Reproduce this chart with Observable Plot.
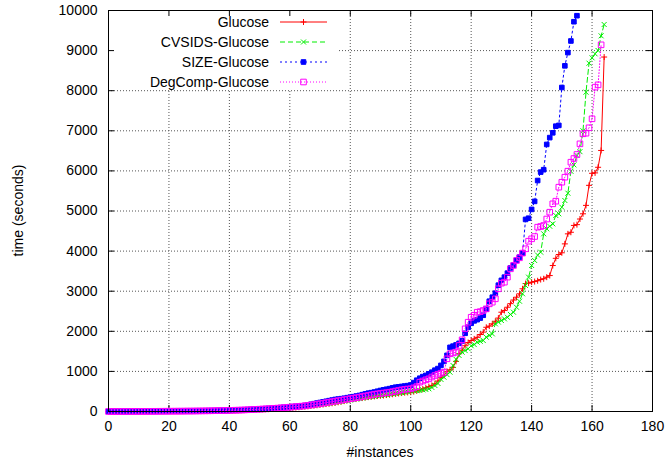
<!DOCTYPE html>
<html>
<head>
<meta charset="utf-8">
<script src="https://cdn.jsdelivr.net/npm/d3@7"></script>
<script src="https://cdn.jsdelivr.net/npm/@observablehq/plot@0.6"></script>
<style>
  html, body { margin: 0; padding: 0; background: #fff; }
</style>
</head>
<body>
<div id="chart"></div>
<script>
const xTicks = [0, 20, 40, 60, 80, 100, 120, 140, 160, 180];
const yTicks = [0, 1000, 2000, 3000, 4000, 5000, 6000, 7000, 8000, 9000, 10000];
const seriesNames = ["Glucose", "CVSIDS-Glucose", "SIZE-Glucose", "DegComp-Glucose"];

const glucose = [
  0,0,0,1,1,1,1,2,2,2,2,3,3,3,4,4,4,5,5,6,6,6,7,7,8,8,9,9,10,11,
  12,13,14,15,16,17,18,19,21,22,
  24,26,28,30,32,34,37,40,43,46,
  49,52,55,58,62,66,70,74,78,82,
  87,92,98,105,112,120,128,137,146,155,
  165,175,185,195,205,215,230,245,260,280,
  300,310,320,330,340,350,360,370,380,390,
  395,400,410,420,430,440,450,460,470,475,
  481,495,515,540,560,590,620,650,690,760,
  850,900,1000,1040,1100,1250,1440,1530,1640,1720,
  1770,1810,1850,1920,1980,2100,2130,2186,2250,2330,
  2476,2520,2600,2690,2780,2850,2935,3060,3190,3200,
  3225,3240,3260,3290,3310,3350,3390,3640,3820,3915,
  3958,4180,4430,4470,4640,4660,4800,4930,5140,5640,
  5940,5950,6090,6510,8840
];

const cvsids = [
  0,0,0,1,1,1,1,2,2,2,3,3,3,4,4,4,5,5,5,6,6,7,7,8,8,9,9,10,11,11,
  12,13,14,15,16,18,19,20,22,23,
  25,27,29,31,33,35,38,41,44,47,
  50,53,57,61,65,69,73,78,83,88,
  93,99,105,112,120,128,136,145,154,163,
  172,182,192,202,212,224,236,248,260,272,
  285,298,310,322,335,347,358,368,378,390,
  400,410,420,430,440,450,460,470,480,490,
  506,515,520,524,540,550,566,600,648,700,
  800,855,920,980,1147,1300,1397,1479,1520,1563,
  1640,1670,1728,1750,1770,1853,1900,1936,2186,2230,
  2269,2310,2350,2420,2476,2600,2750,2935,3142,3350,
  3641,3766,3900,3973,4431,4556,4620,4680,4888,4930,
  5095,5262,5444,5990,6150,6384,6480,7000,7963,8686,
  8820,8920,9002,9368,9651
];

const sizeG = [
  0,0,1,1,1,2,2,2,3,3,3,4,4,5,5,5,6,6,7,7,8,8,9,10,10,11,12,13,14,15,
  16,17,18,19,20,21,23,24,26,28,
  30,32,34,37,40,43,46,50,54,58,
  62,66,70,75,80,85,90,96,102,108,
  115,122,128,134,140,150,165,180,195,210,
  225,240,255,270,285,300,310,320,330,345,
  357,370,385,400,420,440,457,470,485,505,
  524,540,555,570,590,606,615,625,635,645,
  660,720,780,830,870,900,940,980,1030,1070,
  1150,1250,1400,1600,1630,1660,1700,1760,1950,2100,
  2200,2260,2290,2330,2400,2550,2750,2850,2950,3150,
  3270,3350,3450,3580,3650,3770,3850,3950,4790,4820,
  5040,5240,5760,5970,6030,6660,6830,6950,7115,7135,
  8080,8620,8950,9240,9720,9870
];

const degcomp = [
  0,0,1,1,1,1,2,2,2,3,3,3,4,4,4,5,5,6,6,7,7,8,8,9,9,10,11,11,12,13,
  14,15,16,17,18,20,21,23,24,26,
  28,30,32,34,37,40,43,46,50,54,
  58,62,66,70,75,80,85,90,96,102,
  108,114,120,127,134,142,152,162,172,183,
  195,207,220,232,245,258,270,283,295,308,
  320,332,345,358,372,386,400,415,430,440,
  450,460,470,480,495,510,525,540,550,560,
  566,590,620,731,760,790,815,860,898,930,
  955,980,1314,1439,1460,1479,1646,1788,2062,2227,
  2350,2400,2476,2490,2519,2560,2685,2726,2810,3060,
  3200,3225,3350,3558,3641,3766,3833,3950,4057,4247,
  4306,4364,4597,4613,4638,4800,4970,5179,5245,5594,
  5718,5843,5993,6217,6309,6409,6675,6925,6940,7075,7299,8088,8146,9144
];

// marker symbols
const plusSym = {draw(ctx) { ctx.moveTo(-3, 0); ctx.lineTo(3, 0); ctx.moveTo(0, -3); ctx.lineTo(0, 3); }};
const crossSym = {draw(ctx) { ctx.moveTo(-2.5, -2.5); ctx.lineTo(2.5, 2.5); ctx.moveTo(-2.5, 2.5); ctx.lineTo(2.5, -2.5); }};
const fillSqSym = {draw(ctx) { ctx.moveTo(-2.3, -2.3); ctx.lineTo(2.3, -2.3); ctx.lineTo(2.3, 2.3); ctx.lineTo(-2.3, 2.3); ctx.closePath(); }};
const openSqSym = {draw(ctx) { ctx.moveTo(-2.8, -2.8); ctx.lineTo(2.8, -2.8); ctx.lineTo(2.8, 2.8); ctx.lineTo(-2.8, 2.8); ctx.closePath(); }};

const series = [
  {name: seriesNames[0], values: glucose, color: "#ff0000", dash: null, sym: plusSym, fill: "none"},
  {name: seriesNames[1], values: cvsids, color: "#00ee00", dash: "5,3", sym: crossSym, fill: "none"},
  {name: seriesNames[2], values: sizeG, color: "#0000ff", dash: "2,3", sym: fillSqSym, fill: "#0000ff"},
  {name: seriesNames[3], values: degcomp, color: "#ff00ff", dash: "1,2", sym: openSqSym, fill: "none"}
];

const tables = series.map(s => s.values.map((t, i) => ({i, t, name: s.name})));

const W = 668, H = 463;
const mL = 108, mR = 16, mT = 10, mB = 52;
const innerW = W - mL - mR, innerH = H - mT - mB;

const gridStyle = {stroke: "#555", strokeDasharray: "1,2", strokeWidth: 1};

const marks = [];
marks.push(Plot.ruleX(xTicks, {x: d => d, ...gridStyle}));
marks.push(Plot.ruleY(yTicks, {y: d => d, ...gridStyle}));
// key background (opaque key)
marks.push(() => {
  const g = d3.create("svg:g");
  g.append("rect").attr("x", mL + 1).attr("y", mT + 1).attr("width", 228).attr("height", 79).attr("fill", "#fff");
  return g.node();
});
// inward ticks on all four sides
marks.push(Plot.tickX(xTicks, {x: d => d, insetTop: innerH - 6, stroke: "#000"}));
marks.push(Plot.tickX(xTicks, {x: d => d, insetBottom: innerH - 6, stroke: "#000"}));
marks.push(Plot.tickY(yTicks, {y: d => d, insetRight: innerW - 6, stroke: "#000"}));
marks.push(Plot.tickY(yTicks, {y: d => d, insetLeft: innerW - 6, stroke: "#000"}));

series.forEach((s, k) => {
  marks.push(Plot.line(tables[k], {x: "i", y: "t", stroke: s.color, strokeWidth: 1, strokeDasharray: s.dash}));
  marks.push(Plot.dot(tables[k], {x: "i", y: "t", symbol: s.sym, r: 3, stroke: s.color, fill: s.fill, strokeWidth: 1}));
});

marks.push(Plot.axisX(xTicks, {tickSize: 0, tickPadding: 10, fontSize: 14, label: null}));
marks.push(Plot.axisY(yTicks, {tickSize: 0, tickPadding: 11, fontSize: 14, label: null, tickFormat: d => String(d)}));
marks.push(Plot.frame({stroke: "#000", strokeWidth: 1}));

// legend
marks.push(() => {
  const g = d3.create("svg:g");
  series.forEach((s, k) => {
    const y = 22 + 20 * k;
    g.append("text").attr("x", 269).attr("y", y).attr("dy", "0.36em").attr("text-anchor", "end")
      .attr("font-size", 14).attr("fill", "#000").text(s.name);
    g.append("line").attr("x1", 280).attr("x2", 327).attr("y1", y).attr("y2", y)
      .attr("stroke", s.color).attr("stroke-width", 1).attr("stroke-dasharray", s.dash);
    const p = d3.path();
    s.sym.draw(p);
    g.append("path").attr("d", p.toString()).attr("transform", `translate(303.5,${y})`)
      .attr("stroke", s.color).attr("fill", s.fill).attr("stroke-width", 1);
  });
  // axis titles
  g.append("text").attr("transform", `translate(18,${mT + innerH / 2}) rotate(-90)`).attr("dy", "0.36em")
    .attr("text-anchor", "middle").attr("font-size", 14).attr("fill", "#000").text("time (seconds)");
  g.append("text").attr("x", mL + innerW / 2).attr("y", 452).attr("dy", "0.36em")
    .attr("text-anchor", "middle").attr("font-size", 14).attr("fill", "#000").text("#instances");
  return g.node();
});

const chart = Plot.plot({
  width: W,
  height: H,
  marginLeft: mL,
  marginRight: mR,
  marginTop: mT,
  marginBottom: mB,
  x: {domain: [0, 180]},
  y: {domain: [0, 10000]},
  style: {fontFamily: "'Liberation Sans', Arial, Helvetica, sans-serif", fontSize: "14px", background: "#fff", color: "#000"},
  marks
});
document.getElementById("chart").appendChild(chart);
</script>
</body>
</html>
